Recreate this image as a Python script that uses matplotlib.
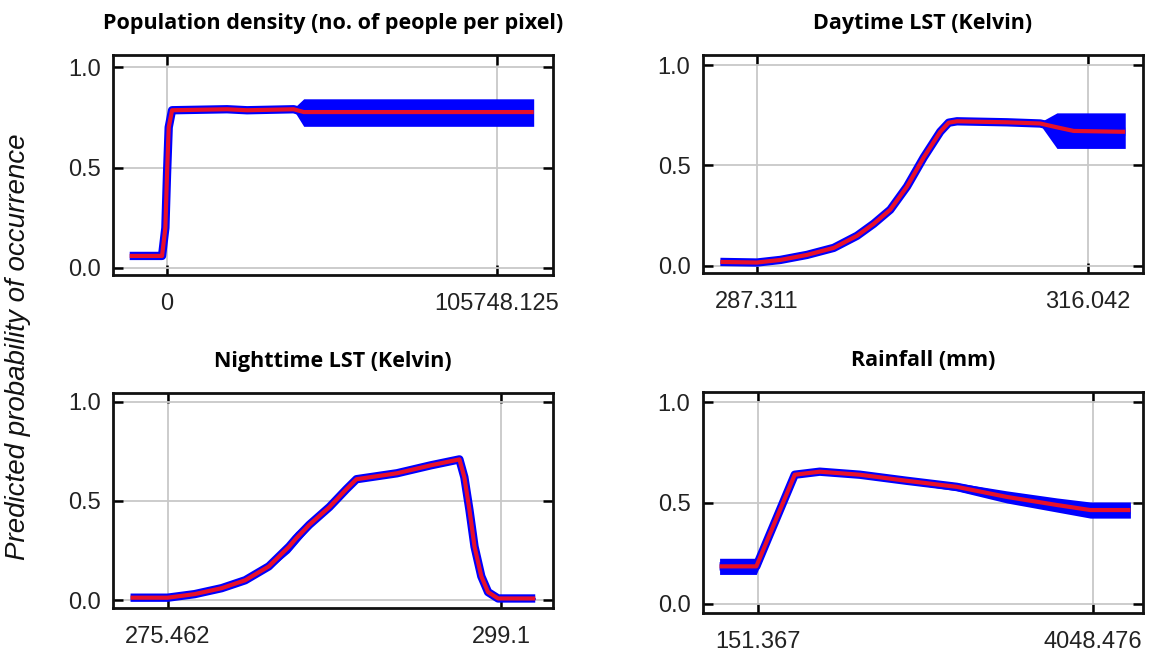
import numpy as np
import matplotlib.pyplot as plt

# panel titles and tick labels
titles = ["Population density (no. of people per pixel)", "Daytime LST (Kelvin)",
          "Nighttime LST (Kelvin)", "Rainfall (mm)"]
xticks = [[0, 105748.125], [287.311, 316.042], [275.462, 299.1], [151.367, 4048.476]]
xtick_labels = [["0", "105748.125"], ["287.311", "316.042"], ["275.462", "299.1"], ["151.367", "4048.476"]]

# population density
pop_x = [-11963, -1602, -534, 0, 534, 1602, 19228, 25637, 40592, 43800, 117500]
pop_mean = [0.060, 0.060, 0.20, 0.47, 0.70, 0.785, 0.79, 0.785, 0.79, 0.776, 0.776]
pop_lo = [0.055, 0.055, 0.19, 0.46, 0.69, 0.78, 0.785, 0.78, 0.785, 0.705, 0.705]
pop_hi = [0.065, 0.065, 0.21, 0.48, 0.71, 0.795, 0.795, 0.79, 0.795, 0.842, 0.842]

# daytime LST
day_x = [284.13, 287.31, 289.34, 291.65, 293.97, 295.99, 297.44, 298.88, 300.33, 301.78,
         303.22, 303.95, 304.67, 309.01, 311.90, 313.35, 314.80, 318.85, 319.28]
day_mean = [0.020, 0.017, 0.030, 0.055, 0.090, 0.150, 0.210, 0.280, 0.395, 0.540,
            0.668, 0.713, 0.720, 0.715, 0.709, 0.690, 0.672, 0.668, 0.668]
day_lo = [0.015, 0.012, 0.024, 0.048, 0.082, 0.140, 0.200, 0.270, 0.385, 0.530,
          0.660, 0.706, 0.714, 0.709, 0.702, 0.585, 0.585, 0.585, 0.585]
day_hi = [0.025, 0.022, 0.036, 0.062, 0.098, 0.160, 0.220, 0.290, 0.405, 0.550,
          0.676, 0.720, 0.726, 0.721, 0.716, 0.762, 0.762, 0.762, 0.762]

# nighttime LST
night_x = [272.83, 275.46, 277.37, 279.28, 280.95, 282.62, 284.06, 284.54, 285.49, 286.92,
           288.12, 288.83, 291.70, 294.09, 296.12, 296.47, 296.83, 297.19, 297.67, 298.15,
           298.86, 301.49]
night_mean = [0.012, 0.012, 0.030, 0.060, 0.100, 0.170, 0.270, 0.310, 0.380, 0.470,
              0.560, 0.610, 0.640, 0.680, 0.710, 0.620, 0.455, 0.270, 0.120, 0.040,
              0.008, 0.008]
night_lo = [0.006, 0.006, 0.022, 0.050, 0.088, 0.155, 0.240, 0.280, 0.360, 0.458,
            0.550, 0.602, 0.633, 0.673, 0.703, 0.612, 0.447, 0.262, 0.112, 0.033,
            0.003, 0.003]
night_hi = [0.018, 0.018, 0.038, 0.070, 0.112, 0.185, 0.300, 0.345, 0.400, 0.482,
            0.570, 0.618, 0.647, 0.687, 0.717, 0.628, 0.463, 0.278, 0.128, 0.047,
            0.013, 0.013]

# rainfall
rain_x = [-295.5, 131.9, 578.8, 870.2, 1336.4, 1880.4, 2463.2, 3046.1, 3628.9, 4017.4, 4483.7]
rain_mean = [0.186, 0.186, 0.640, 0.655, 0.640, 0.610, 0.580, 0.530, 0.490, 0.465, 0.465]
rain_lo = [0.146, 0.146, 0.625, 0.645, 0.630, 0.598, 0.560, 0.500, 0.455, 0.425, 0.425]
rain_hi = [0.226, 0.226, 0.655, 0.665, 0.650, 0.622, 0.600, 0.560, 0.525, 0.505, 0.505]

curves = [(pop_x, pop_mean, pop_lo, pop_hi), (day_x, day_mean, day_lo, day_hi),
          (night_x, night_mean, night_lo, night_hi), (rain_x, rain_mean, rain_lo, rain_hi)]
xlims = [(-17304, 123700), (282.62, 320.82), (271.59, 302.75), (-488.4, 4630.1)]
ylims = [(-0.035, 1.06), (-0.035, 1.05), (-0.04, 1.045), (-0.045, 1.05)]
boxes = [[0.0983, 0.5814, 0.3826, 0.3349], [0.6113, 0.5845, 0.3826, 0.3318],
         [0.0983, 0.0746, 0.3826, 0.3272], [0.6113, 0.0670, 0.3826, 0.3364]]

fig = plt.figure(figsize=(11.5, 6.57), dpi=100)

for i in range(4):
    ax = fig.add_axes(boxes[i])
    x, m, lo, hi = curves[i]
    ax.fill_between(x, lo, hi, color="#0000ff", lw=0, zorder=2)
    ax.plot(x, m, color="#0000ff", lw=6, solid_capstyle="butt", zorder=3)
    ax.plot(x, m, color="#e8102a", lw=3, solid_capstyle="butt", zorder=4)

    ax.set_xlim(xlims[i])
    ax.set_ylim(ylims[i])
    ax.set_xticks(xticks[i])
    ax.set_xticklabels(xtick_labels[i])
    ax.set_yticks([0.0, 0.5, 1.0])
    ax.set_yticklabels(["0.0", "0.5", "1.0"])
    ax.grid(True, color="#c8c8c8", lw=1.3, zorder=0)
    ax.set_axisbelow(True)
    ax.tick_params(direction="in", length=7, width=1.8, top=True, right=True,
                   labelsize=17, labelcolor="#222222")
    ax.tick_params(axis="x", pad=13)
    ax.tick_params(axis="y", pad=9)
    for lab in ax.get_xticklabels() + ax.get_yticklabels():
        lab.set_family("Liberation Sans")
    for s in ax.spines.values():
        s.set_linewidth(2)
        s.set_color("#111111")
    ax.set_title(titles[i], fontsize=15.5, fontweight="bold", family="Open Sans", pad=19)

fig.text(0.016, 0.472, "Predicted probability of occurrence", rotation=90, ha="center",
         va="center", fontsize=20, style="italic", family="Liberation Sans", color="#111111")

plt.savefig("out.png", dpi=100)
plt.close()
